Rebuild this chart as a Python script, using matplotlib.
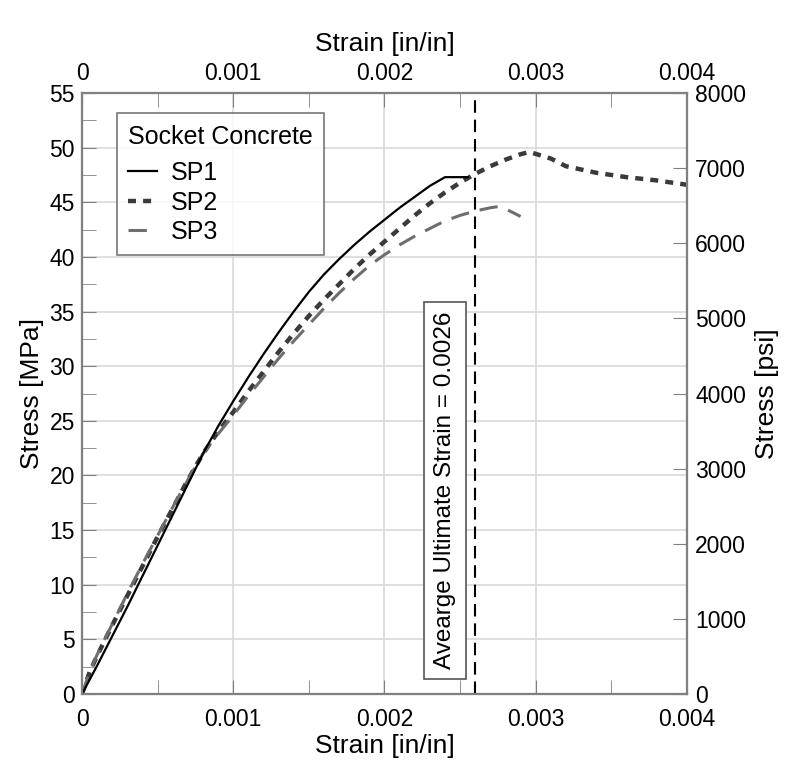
import matplotlib
matplotlib.use("Agg")
import matplotlib.pyplot as plt
from matplotlib.ticker import MultipleLocator
import numpy as np

plt.rcParams['font.family'] = ['Liberation Sans', 'DejaVu Sans']

sp1_strain = [0, 0.0001, 0.0002, 0.0003, 0.0004, 0.0005, 0.0006, 0.0007, 0.0008, 0.0009,
              0.001, 0.0011, 0.0012, 0.0013, 0.0014, 0.0015, 0.0016, 0.0017, 0.0018, 0.0019,
              0.002, 0.0021, 0.0022, 0.0023, 0.0024, 0.00255]
sp1_stress = [0, 2.6, 5.3, 8.0, 10.8, 13.6, 16.4, 19.2, 22.0, 24.5,
              26.8, 29.0, 31.1, 33.1, 35.0, 36.8, 38.4, 39.8, 41.1, 42.3,
              43.4, 44.5, 45.5, 46.5, 47.3, 47.3]

sp2_strain = [0, 0.00005, 0.0001, 0.0002, 0.0003, 0.0004, 0.0005, 0.0006, 0.0007, 0.0008,
              0.0009, 0.001, 0.0011, 0.0012, 0.0013, 0.0014, 0.0015, 0.0016, 0.0017, 0.0018,
              0.0019, 0.002, 0.0021, 0.0022, 0.0023, 0.0024, 0.0025, 0.0026, 0.0027, 0.0028,
              0.0029, 0.00296, 0.0031, 0.0032, 0.0034, 0.0036, 0.0038, 0.004]
sp2_stress = [0, 2.0, 3.5, 6.3, 9.0, 11.7, 14.4, 17.0, 19.6, 22.0,
              24.0, 25.8, 27.7, 29.5, 31.3, 33.0, 34.6, 36.1, 37.5, 38.9,
              40.2, 41.4, 42.6, 43.8, 44.9, 45.9, 46.8, 47.6, 48.3, 48.9,
              49.4, 49.6, 49.0, 48.3, 47.7, 47.3, 47.0, 46.6]

sp3_strain = [0, 0.00005, 0.0001, 0.0002, 0.0003, 0.0004, 0.0005, 0.0006, 0.0007, 0.0008,
              0.0009, 0.001, 0.0011, 0.0012, 0.0013, 0.0014, 0.0015, 0.0016, 0.0017, 0.0018,
              0.0019, 0.002, 0.0021, 0.0022, 0.0023, 0.0024, 0.0025, 0.0026, 0.0027, 0.00275,
              0.0028, 0.0029]
sp3_stress = [0, 2.0, 3.6, 6.4, 9.2, 11.9, 14.5, 17.1, 19.6, 22.0,
              23.8, 25.5, 27.3, 29.0, 30.7, 32.3, 33.8, 35.3, 36.7, 38.0,
              39.2, 40.2, 41.1, 41.9, 42.6, 43.3, 43.8, 44.2, 44.5, 44.6,
              44.4, 43.7]

strain_ticks = [0, 0.001, 0.002, 0.003, 0.004]
strain_tick_labels = ['0', '0.001', '0.002', '0.003', '0.004']
avg_ult_strain = 0.0026

fig = plt.figure(figsize=(7.9, 7.77), dpi=100)
ax = fig.add_axes([0.1038, 0.1068, 0.7658, 0.7735])

spine_c = '#808080'
grid_c = '#d9d9d9'
TICK_FS = 16.5
LABEL_FS = 19

ax.plot(sp1_strain, sp1_stress, color='black', lw=1.6, label='SP1', zorder=4)
ax.plot(sp2_strain, sp2_stress, color='#3a3a3a', lw=3.2, dashes=(1.8, 1.6), label='SP2', zorder=3)
ax.plot(sp3_strain, sp3_stress, color='#6e6e6e', lw=2.2, dashes=(6, 3.6), label='SP3', zorder=3)
ax.axvline(avg_ult_strain, color='black', lw=1.5, dashes=(6, 3.3), zorder=5)

ax.set_xlim(0, 0.004)
ax.set_ylim(0, 55)
ax.set_xticks(strain_ticks)
ax.set_xticklabels(strain_tick_labels)
ax.xaxis.set_minor_locator(MultipleLocator(0.0005))
ax.yaxis.set_major_locator(MultipleLocator(5))
ax.yaxis.set_minor_locator(MultipleLocator(2.5))
ax.grid(True, which='major', color=grid_c, lw=1.2, zorder=0)
ax.tick_params(which='both', direction='in', labelsize=TICK_FS, color=spine_c, length=10)
ax.tick_params(axis='x', pad=10)
ax.tick_params(axis='y', pad=5)
for s in ax.spines.values():
    s.set_color(spine_c)
    s.set_linewidth(1.5)
ax.set_xlabel('Strain [in/in]', fontsize=LABEL_FS, labelpad=2)
ax.set_ylabel('Stress [MPa]', fontsize=LABEL_FS, labelpad=4)

# top axis
axt = ax.twiny()
axt.set_xlim(ax.get_xlim())
axt.set_xticks(strain_ticks)
axt.set_xticklabels(strain_tick_labels)
axt.xaxis.set_minor_locator(MultipleLocator(0.0005))
axt.tick_params(which='both', direction='in', labelsize=TICK_FS, length=10, color=spine_c, pad=6)
axt.set_xlabel('Strain [in/in]', fontsize=LABEL_FS, labelpad=8)

# right axis
axr = ax.twinx()
axr.set_ylim(0, 8000)
axr.yaxis.set_major_locator(MultipleLocator(1000))
axr.tick_params(which='both', direction='in', labelsize=TICK_FS, length=10, color=spine_c, pad=6)
axr.set_ylabel('Stress [psi]', fontsize=LABEL_FS, labelpad=6)
for a in (axt, axr):
    for s in a.spines.values():
        s.set_color(spine_c)
        s.set_linewidth(1.5)

ax.text(0.00240, 18.6, 'Avearge Ultimate Strain = 0.0026', rotation=90,
        ha='center', va='center', fontsize=17.5, zorder=6,
        bbox=dict(boxstyle='square,pad=0.4', fc='white', ec='#555555', lw=1.2))

leg = ax.legend(loc='upper left', bbox_to_anchor=(0.058, 0.966), title='Socket Concrete',
                fontsize=18, title_fontsize=18, frameon=True, fancybox=False,
                edgecolor='#555555', handlelength=1.15, handletextpad=0.55,
                borderpad=0.45, labelspacing=0.22, borderaxespad=0)
leg._legend_box.align = 'left'
leg._legend_box.sep = 9
leg.get_frame().set_linewidth(1.2)
leg.set_zorder(10)

fig.savefig('out.png', dpi=100)
